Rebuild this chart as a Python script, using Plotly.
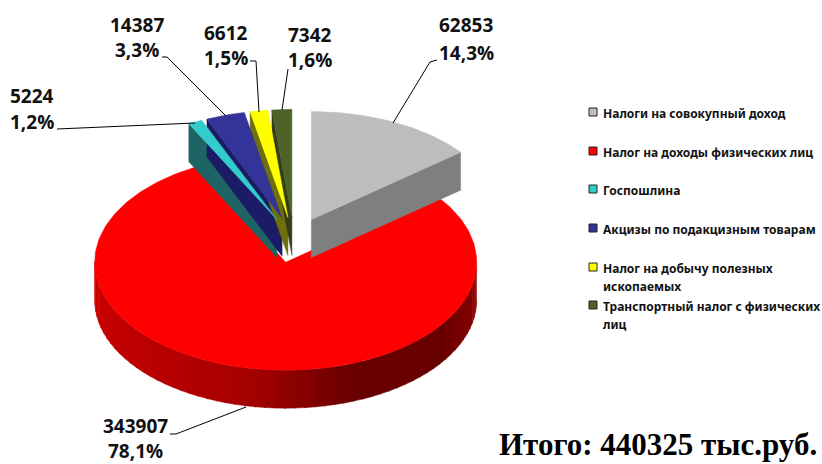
import numpy as np
import plotly.graph_objects as go

categories = ["Налоги на совокупный доход", "Налог на доходы физических лиц", "Госпошлина",
              "Акцизы по подакцизным товарам", "Налог на добычу полезных ископаемых",
              "Транспортный налог с физических лиц"]
values = [62853, 343907, 5224, 14387, 6612, 7342]
percent_labels = ["14,3%", "78,1%", "1,2%", "3,3%", "1,5%", "1,6%"]
top_colors = ["#BDBDBD", "#FF0000", "#33CCCC", "#333399", "#FFFF00", "#4F6228"]
wall_colors = ["#7F7F7F", "#A00000", "#1F6464", "#1C1C66", "#70700A", "#323E18"]
legend_lines = [["Налоги на совокупный доход"], ["Налог на доходы физических лиц"], ["Госпошлина"],
                ["Акцизы по подакцизным товарам"], ["Налог на добычу полезных", "ископаемых"],
                ["Транспортный налог с физических", "лиц"]]
total_label = "Итого: 440325 тыс.руб."

# Pie projection, in page pixels
CX, CY, RX, RY, DEPTH, EXPLODE = 294, 240, 191, 108, 38, 0.21
LABEL_POS = [(466, 25, 53), (135, 426, 451), (32, 96, 122), (137, 25, 50), (226, 33, 58), (310, 35, 60)]
LEADERS = [[(437, 60), (430, 62), (393, 123)], [(170, 434), (176, 434), (246, 407)],
           [(57, 129), (195, 123)], [(162, 57), (167, 57), (226, 116)],
           [(250, 61), (256, 61), (259, 112)], [(288, 69), (282, 110)]]
LEGEND_Y = [112, 151, 189, 228, 267, 305]

total = sum(values)
edges = np.concatenate([[0], np.cumsum(values)]) / total * 2 * np.pi
fig = go.Figure()


def rim(cx, cy, a, dz=0):
    return cx + RX * np.sin(a), cy - RY * np.cos(a) + dz


def wall_shade(a):
    d = np.degrees(a)
    r = np.interp(d, [90, 125, 160, 190, 230, 270], [150, 105, 105, 165, 190, 205])
    return f"rgb({int(r)},0,0)"


def poly(xs, ys, color, name):
    fig.add_trace(go.Scatter(x=xs, y=ys, mode="lines", fill="toself", fillcolor=color,
                             line=dict(color=color, width=0.5), name=name, showlegend=False,
                             hoverinfo="name"))


centers = []
for i in range(len(values)):
    mid = (edges[i] + edges[i + 1]) / 2
    centers.append((CX + EXPLODE * RX * np.sin(mid), CY - EXPLODE * RY * np.cos(mid)))

# red slice first: outer wall, then top
cx, cy = centers[1]
steps = np.radians(np.arange(90, 270, 3))
for a0 in steps:
    arc = np.linspace(a0, a0 + np.radians(3.4), 4)
    x, y = rim(cx, cy, arc)
    poly(list(x) + list(x[::-1]), list(y) + list(y[::-1] + DEPTH), wall_shade(a0 + np.radians(1.5)), categories[1])
arc = np.linspace(edges[1], edges[2], 200)
x, y = rim(cx, cy, arc)
poly([cx] + list(x) + [cx], [cy] + list(y) + [cy], top_colors[1], categories[1])

# remaining slices: cut-face wall, then top
for i in [0, 2, 3, 4, 5]:
    cx, cy = centers[i]
    a = edges[i + 1] if i == 0 else edges[i]
    ex, ey = rim(cx, cy, a)
    poly([cx, ex, ex, cx, cx], [cy, ey, ey + DEPTH, cy + DEPTH, cy], wall_colors[i], categories[i])
for i in [2, 3, 4, 5, 0]:
    cx, cy = centers[i]
    arc = np.linspace(edges[i], edges[i + 1], 60)
    x, y = rim(cx, cy, arc)
    poly([cx] + list(x) + [cx], [cy] + list(y) + [cy], top_colors[i], categories[i])

# leader lines
for pts in LEADERS:
    fig.add_trace(go.Scatter(x=[p[0] for p in pts], y=[p[1] for p in pts], mode="lines",
                             line=dict(color="black", width=1), showlegend=False, hoverinfo="skip"))

# legend keys
fig.add_trace(go.Scatter(x=[593] * len(categories), y=LEGEND_Y, mode="markers",
                         marker=dict(symbol="square", size=8, color=top_colors,
                                     line=dict(color="#222222", width=1)),
                         showlegend=False, hoverinfo="skip"))

LABEL_FONT = dict(family="Open Sans", size=19, color="#111111", weight="bold")
LEG_FONT = dict(family="Noto Sans", size=12, color="#111111", weight="bold")
anns = []
for v, p, (lx, y1, y2) in zip(values, percent_labels, LABEL_POS):
    anns.append(dict(x=lx, y=y1, text=str(v), showarrow=False, font=LABEL_FONT))
    anns.append(dict(x=lx, y=y2, text=p, showarrow=False, font=LABEL_FONT))
for ly, lines in zip(LEGEND_Y, legend_lines):
    for j, t in enumerate(lines):
        anns.append(dict(x=601, y=ly + 1 + j * 18, text=t, showarrow=False, xanchor="left", font=LEG_FONT))
anns.append(dict(x=497, y=444, text=total_label, showarrow=False, xanchor="left",
                 font=dict(family="Liberation Serif", size=31, color="black", weight="bold")))

fig.update_layout(width=822, height=464, margin=dict(l=0, r=0, t=0, b=0), paper_bgcolor="white",
                  plot_bgcolor="white", showlegend=False, annotations=anns,
                  xaxis=dict(range=[0, 822], visible=False, fixedrange=True),
                  yaxis=dict(range=[464, 0], visible=False, fixedrange=True))
fig.write_html("out.html", config=dict(displayModeBar=False),
               post_script="document.body.style.margin='0';document.body.style.overflow='hidden';")
